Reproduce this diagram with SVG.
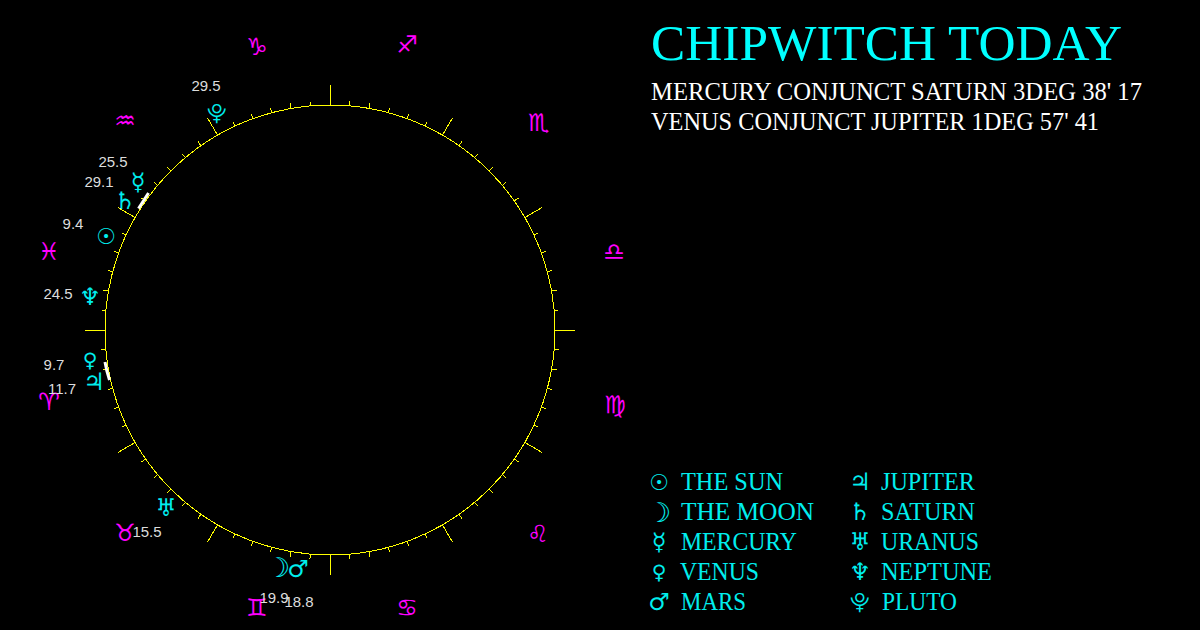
<svg xmlns="http://www.w3.org/2000/svg" width="1200" height="630" viewBox="0 0 1200 630">
<style>
.g{font-family:"DejaVu Sans","Noto Sans",sans-serif;text-anchor:middle;dominant-baseline:central}
.z{fill:#f0f;font-size:24px}
.p{fill:#0ee;font-size:24px}
.p .sm{font-size:22px}
.p .xs{font-size:20px}
.p .lg{font-size:27px;font-weight:bold}
.n{font-family:"Liberation Sans",Arial,sans-serif;font-size:15px;fill:#ddd;text-anchor:middle}
.t{font-family:"Liberation Serif","Times New Roman",serif}
.l{fill:#0ee;font-size:25px}
.tk{stroke:#ff0;stroke-width:1;shape-rendering:crispEdges}
</style>
<defs>
<line id="m" class="tk" x1="330" y1="105" x2="330" y2="100"/>
<line id="M" class="tk" x1="330" y1="105" x2="330" y2="85"/>
</defs>
<rect width="1200" height="630" fill="#000"/>
<g id="wheel">
<circle cx="330" cy="330" r="225" fill="none" stroke="#ff0" stroke-width="1" shape-rendering="crispEdges"/>
<use href="#M"/><use href="#M" transform="rotate(30 330 330)"/><use href="#M" transform="rotate(60 330 330)"/><use href="#M" transform="rotate(90 330 330)"/><use href="#M" transform="rotate(120 330 330)"/><use href="#M" transform="rotate(150 330 330)"/><use href="#M" transform="rotate(180 330 330)"/><use href="#M" transform="rotate(210 330 330)"/><use href="#M" transform="rotate(240 330 330)"/><use href="#M" transform="rotate(270 330 330)"/><use href="#M" transform="rotate(300 330 330)"/><use href="#M" transform="rotate(330 330 330)"/>
<use href="#m" transform="rotate(5 330 330)"/><use href="#m" transform="rotate(10 330 330)"/><use href="#m" transform="rotate(15 330 330)"/><use href="#m" transform="rotate(20 330 330)"/><use href="#m" transform="rotate(25 330 330)"/>
<use href="#m" transform="rotate(35 330 330)"/><use href="#m" transform="rotate(40 330 330)"/><use href="#m" transform="rotate(45 330 330)"/><use href="#m" transform="rotate(50 330 330)"/><use href="#m" transform="rotate(55 330 330)"/>
<use href="#m" transform="rotate(65 330 330)"/><use href="#m" transform="rotate(70 330 330)"/><use href="#m" transform="rotate(75 330 330)"/><use href="#m" transform="rotate(80 330 330)"/><use href="#m" transform="rotate(85 330 330)"/>
<use href="#m" transform="rotate(95 330 330)"/><use href="#m" transform="rotate(100 330 330)"/><use href="#m" transform="rotate(105 330 330)"/><use href="#m" transform="rotate(110 330 330)"/><use href="#m" transform="rotate(115 330 330)"/>
<use href="#m" transform="rotate(125 330 330)"/><use href="#m" transform="rotate(130 330 330)"/><use href="#m" transform="rotate(135 330 330)"/><use href="#m" transform="rotate(140 330 330)"/><use href="#m" transform="rotate(145 330 330)"/>
<use href="#m" transform="rotate(155 330 330)"/><use href="#m" transform="rotate(160 330 330)"/><use href="#m" transform="rotate(165 330 330)"/><use href="#m" transform="rotate(170 330 330)"/><use href="#m" transform="rotate(175 330 330)"/>
<use href="#m" transform="rotate(185 330 330)"/><use href="#m" transform="rotate(190 330 330)"/><use href="#m" transform="rotate(195 330 330)"/><use href="#m" transform="rotate(200 330 330)"/><use href="#m" transform="rotate(205 330 330)"/>
<use href="#m" transform="rotate(215 330 330)"/><use href="#m" transform="rotate(220 330 330)"/><use href="#m" transform="rotate(225 330 330)"/><use href="#m" transform="rotate(230 330 330)"/><use href="#m" transform="rotate(235 330 330)"/>
<use href="#m" transform="rotate(245 330 330)"/><use href="#m" transform="rotate(250 330 330)"/><use href="#m" transform="rotate(255 330 330)"/><use href="#m" transform="rotate(260 330 330)"/><use href="#m" transform="rotate(265 330 330)"/>
<use href="#m" transform="rotate(275 330 330)"/><use href="#m" transform="rotate(280 330 330)"/><use href="#m" transform="rotate(285 330 330)"/><use href="#m" transform="rotate(290 330 330)"/><use href="#m" transform="rotate(295 330 330)"/>
<use href="#m" transform="rotate(305 330 330)"/><use href="#m" transform="rotate(310 330 330)"/><use href="#m" transform="rotate(315 330 330)"/><use href="#m" transform="rotate(320 330 330)"/><use href="#m" transform="rotate(325 330 330)"/>
<use href="#m" transform="rotate(335 330 330)"/><use href="#m" transform="rotate(340 330 330)"/><use href="#m" transform="rotate(345 330 330)"/><use href="#m" transform="rotate(350 330 330)"/><use href="#m" transform="rotate(355 330 330)"/>
<path d="M138.500 208.500L148.500 193" fill="none" stroke="#fff" stroke-width="3"/>
<path d="M105 362Q106.500 371 109.500 380" fill="none" stroke="#fff" stroke-width="3"/>
</g>
<g id="zodiac" class="g z">
<text x="257" y="47">♑︎</text><text x="407" y="45">♐︎</text><text x="539" y="123">♏︎</text><text x="614" y="252">♎︎</text><text x="615" y="405">♍︎</text><text x="538" y="534">♌︎</text><text x="407" y="608">♋︎</text><text x="257" y="608">♊︎</text><text x="125" y="533">♉︎</text><text x="49" y="402">♈︎</text><text x="49" y="252">♓︎</text><text x="125" y="121">♒︎</text>
</g>
<g id="planets" class="g p">
<text class="xs" x="217" y="113">⯓</text><text x="138" y="182">☿</text><text x="125" y="201">♄</text><text class="sm" x="106" y="236">☉</text><text x="90" y="297">♆</text><text class="xs" x="90" y="360">♀</text><text x="94" y="382">♃</text><text x="166" y="508">♅</text><text class="lg" x="278" y="567">☽</text><text x="298" y="569">♂</text>
</g>
<g id="degrees" class="n">
<text x="206" y="91">29.5</text><text x="113" y="167">25.5</text><text x="99" y="187">29.1</text><text x="73" y="229">9.4</text><text x="58" y="299">24.5</text><text x="54" y="370">9.7</text><text x="62" y="394">11.7</text><text x="147" y="537">15.5</text><text x="274" y="603">19.9</text><text x="299" y="607">18.8</text>
</g>
<g id="header" class="t">
<text x="651" y="60" font-size="50" fill="#0ff" textLength="471" lengthAdjust="spacingAndGlyphs">CHIPWITCH TODAY</text>
<text x="651" y="100" font-size="26" fill="#fff" textLength="491" lengthAdjust="spacingAndGlyphs">MERCURY CONJUNCT SATURN 3DEG 38' 17</text>
<text x="651" y="130" font-size="26" fill="#fff" textLength="448" lengthAdjust="spacingAndGlyphs">VENUS CONJUNCT JUPITER 1DEG 57' 41</text>
</g>
<g id="legend-glyphs" class="g p">
<text class="sm" x="659" y="482">☉</text><text class="lg" x="659" y="512">☽</text><text x="659" y="542">☿</text><text class="xs" x="659" y="572">♀</text><text x="659" y="602">♂</text>
<text x="860" y="482">♃</text><text x="860" y="512">♄</text><text x="860" y="542">♅</text><text x="860" y="572">♆</text><text class="xs" x="860" y="602">⯓</text>
</g>
<g id="legend-labels" class="t l">
<text x="681" y="490" textLength="102" lengthAdjust="spacingAndGlyphs">THE SUN</text>
<text x="681" y="520" textLength="133" lengthAdjust="spacingAndGlyphs">THE MOON</text>
<text x="681" y="550" textLength="116" lengthAdjust="spacingAndGlyphs">MERCURY</text>
<text x="680" y="580" textLength="79" lengthAdjust="spacingAndGlyphs">VENUS</text>
<text x="681" y="610" textLength="65" lengthAdjust="spacingAndGlyphs">MARS</text>
<text x="881" y="490" textLength="94" lengthAdjust="spacingAndGlyphs">JUPITER</text>
<text x="881" y="520" textLength="94" lengthAdjust="spacingAndGlyphs">SATURN</text>
<text x="881" y="550" textLength="98" lengthAdjust="spacingAndGlyphs">URANUS</text>
<text x="881" y="580" textLength="111" lengthAdjust="spacingAndGlyphs">NEPTUNE</text>
<text x="882" y="610" textLength="75" lengthAdjust="spacingAndGlyphs">PLUTO</text>
</g>
</svg>
